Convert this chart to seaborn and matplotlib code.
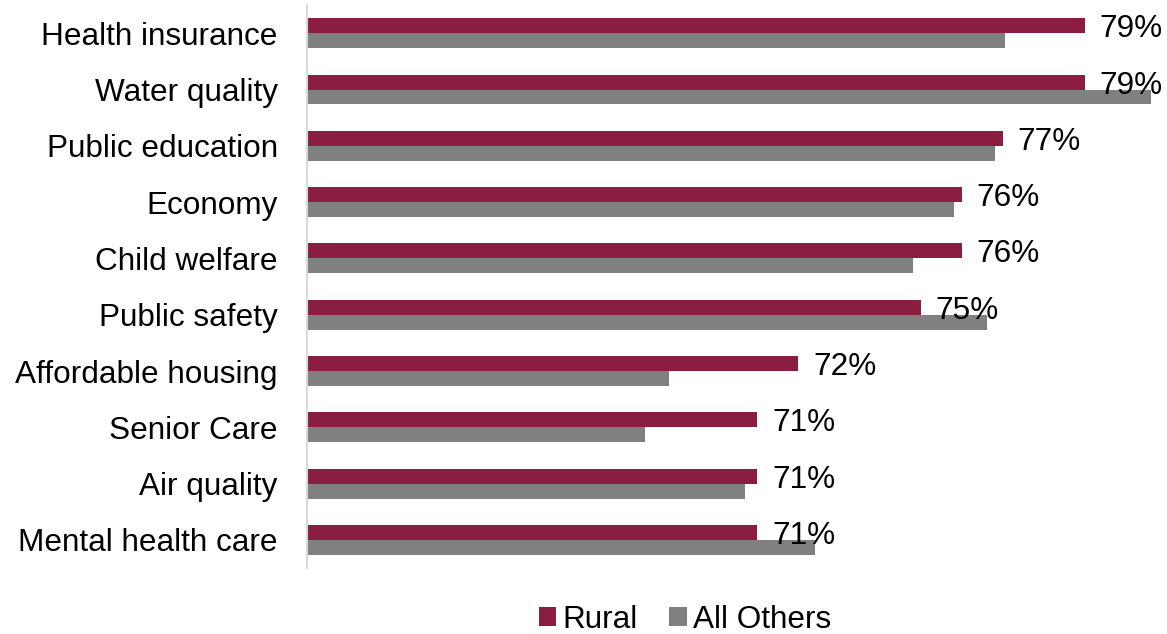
import seaborn as sns
import matplotlib.pyplot as plt
import pandas as pd

# valori
categories = ["Health insurance", "Water quality", "Public education", "Economy",
              "Child welfare", "Public safety", "Affordable housing", "Senior Care",
              "Air quality", "Mental health care"]
rural = [79, 79, 77, 76, 76, 75, 72, 71, 71, 71]
all_others = [77.05, 80.6, 76.8, 75.8, 74.8, 76.6, 68.85, 68.25, 70.7, 72.4]
series = ["Rural", "All Others"]
colors = ["#8A1E41", "#808080"]

df = pd.DataFrame({
    "topic": categories * 2,
    "value": rural + all_others,
    "group": [series[0]] * len(categories) + [series[1]] * len(categories),
})

sns.set_style("white")
plt.rcParams["font.family"] = ["Liberation Sans", "DejaVu Sans"]
plt.rcParams["text.color"] = "black"
plt.rcParams["ytick.color"] = "black"

fig = plt.figure(figsize=(11.67, 6.34), dpi=100)
ax = fig.add_axes([0.263, 0.104, 0.737, 0.888])

sns.barplot(data=df, x="value", y="topic", hue="group", orient="h",
            palette=colors, width=0.53, gap=0, ax=ax, legend=True,
            saturation=1, linewidth=0)

ax.set_xlim(60, 81)
ax.set_ylim(9.5, -0.5)
ax.set_xlabel("")
ax.set_ylabel("")
ax.set_xticks([])
ax.tick_params(axis="y", length=0, pad=21, labelsize=22.7, labelcolor="black")

for s in ["top", "right", "bottom"]:
    ax.spines[s].set_visible(False)
ax.spines["left"].set_color("#D9D9D9")
ax.spines["left"].set_linewidth(1.5)

# etichette solo per Rural, un po' sotto il centro della barra
for bar, v in zip(ax.containers[0], rural):
    ax.annotate("%d%%" % v, (bar.get_x() + bar.get_width(), bar.get_y() + bar.get_height() / 2),
                xytext=(10.5, -2.5), textcoords="offset points", va="center", ha="left",
                fontsize=22.7, color="black", annotation_clip=False)

handles, labels = ax.get_legend_handles_labels()
ax.get_legend().remove()
fig.legend(handles, labels, loc="center", bbox_to_anchor=(685 / 1167, 1 - 620 / 634),
           ncol=2, frameon=False, fontsize=22.7, handlelength=0.55, handleheight=0.55,
           handletextpad=0.2, columnspacing=1.0, borderpad=0)

fig.savefig("out.png", dpi=100)
